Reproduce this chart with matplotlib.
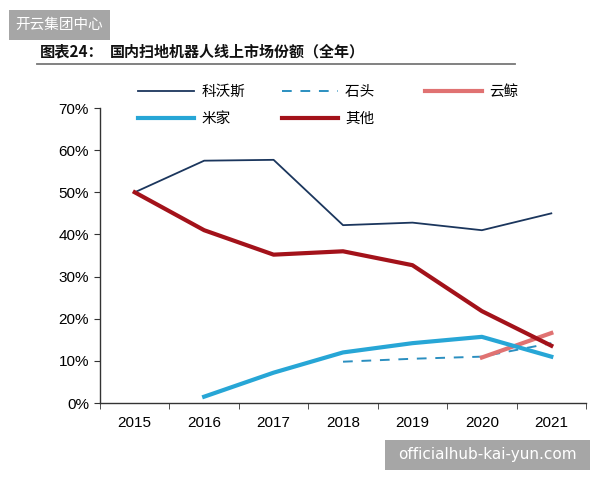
import matplotlib
matplotlib.use("Agg")
import matplotlib.pyplot as plt
from matplotlib.patches import Rectangle
import numpy as np

plt.rcParams['font.family'] = ['Liberation Sans', 'Noto Sans CJK SC', 'DejaVu Sans']

years = ["2015", "2016", "2017", "2018", "2019", "2020", "2021"]
ecovacs = [0.50, 0.575, 0.577, 0.422, 0.428, 0.41, 0.45]      # 科沃斯
roborock = [None, None, None, 0.098, 0.105, 0.11, 0.142]      # 石头
narwal = [None, None, None, None, None, 0.108, 0.166]         # 云鲸
mijia = [None, 0.015, 0.072, 0.12, 0.142, 0.157, 0.11]        # 米家
others = [0.50, 0.41, 0.352, 0.36, 0.327, 0.218, 0.136]       # 其他
yticks = [0, 0.1, 0.2, 0.3, 0.4, 0.5, 0.6, 0.7]

def arr(v):
    return np.array([np.nan if x is None else x for x in v], dtype=float)

fig = plt.figure(figsize=(6, 4.8), dpi=100)
ax = fig.add_axes([0.1667, 0.1604, 0.81, 0.6146])
x = np.arange(len(years))

l1, = ax.plot(x, arr(ecovacs), color='#1b365d', lw=1.3, label='科沃斯')
l2, = ax.plot(x, arr(roborock), color='#2b8fc0', lw=1.4, ls=(0, (5, 4.5)), label='石头')
l3, = ax.plot(x, arr(narwal), color='#e07272', lw=3.0, label='云鲸')
l4, = ax.plot(x, arr(mijia), color='#27a6d6', lw=3.0, label='米家')
l5, = ax.plot(x, arr(others), color='#a3121a', lw=3.0, label='其他')

ax.set_xlim(-0.5, len(years) - 0.5)
ax.set_ylim(0, 0.7)
ax.set_yticks(yticks)
ax.set_yticklabels([f"{int(round(t*100))}%" for t in yticks], fontsize=11)
ax.set_xticks(x)
ax.set_xticklabels(years, fontsize=11)
ax.set_xticks(np.arange(-0.5, len(years), 1.0), minor=True)
ax.tick_params(axis='x', which='major', length=0, pad=9)
ax.tick_params(axis='x', which='minor', length=4, direction='out', color='#333333')
ax.tick_params(axis='y', length=4, direction='out', color='#333333', pad=4)
for s in ['top', 'right']:
    ax.spines[s].set_visible(False)
for s in ['left', 'bottom']:
    ax.spines[s].set_color('#333333')
    ax.spines[s].set_linewidth(1.0)

leg = fig.legend([l1, l4, l2, l5, l3], ['科沃斯', '米家', '石头\u3000', '其他', '云鲸'],
                 ncol=3, loc='upper left', bbox_to_anchor=(0.208, 0.85),
                 frameon=False, handlelength=3.85, columnspacing=2.5,
                 handletextpad=0.5, labelspacing=0.9,
                 prop={'family': ['Noto Sans CJK SC'], 'size': 10.5})

# Title
fig.text(0.067, 0.892, "图表24：", fontsize=11, fontweight='bold',
         family=['Noto Sans CJK SC'], va='center', ha='left', color='#111111')
fig.text(0.183, 0.892, "国内扫地机器人线上市场份额（全年）",
         fontsize=10.8, fontweight='bold', family=['Noto Sans CJK SC'],
         va='center', ha='left', color='#111111')
fig.add_artist(plt.Line2D([0.062, 0.858], [0.866, 0.866], color='#777777', lw=1.3,
                          transform=fig.transFigure))

# Watermark boxes
fig.add_artist(Rectangle((9/600, 1-40/480), 101/600, 30/480, transform=fig.transFigure,
                         facecolor='#a6a6a6', edgecolor='none'))
fig.text(59.5/600, 1-25/480, "开云集团中心", color='white', fontsize=10.5,
         family=['Noto Sans CJK SC'], ha='center', va='center')
fig.add_artist(Rectangle((385/600, 1-470/480), 205/600, 30/480, transform=fig.transFigure,
                         facecolor='#a6a6a6', edgecolor='none'))
fig.text(487.5/600, 1-455/480, "officialhub-kai-yun.com", color='white', fontsize=11,
         family=['DejaVu Sans'], ha='center', va='center')

fig.savefig("out.png", dpi=100)
